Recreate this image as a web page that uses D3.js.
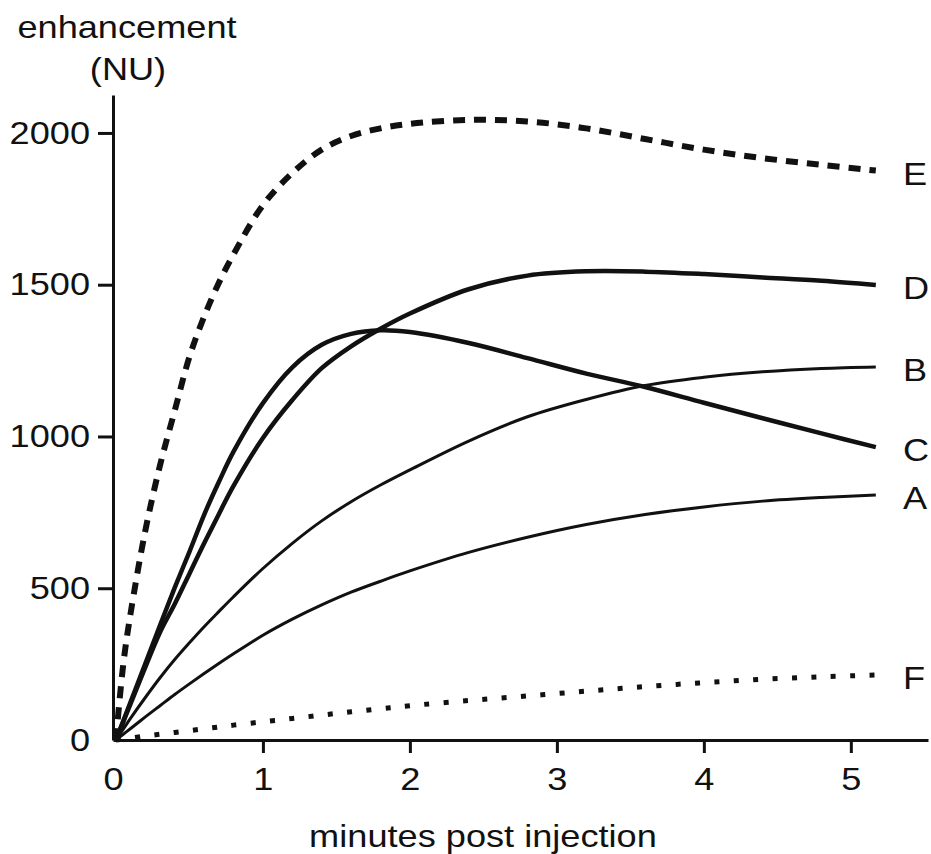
<!DOCTYPE html>
<html>
<head>
<meta charset="utf-8">
<script src="https://cdn.jsdelivr.net/npm/d3@7"></script>
<style>
  body { margin: 0; background: #fff; }
  svg { display: block; }
  text { font-family: "Liberation Sans", Arial, sans-serif; fill: #111; }
</style>
</head>
<body>
<svg id="chart" width="931" height="854"></svg>
<script>
// minutes post injection
const times   = [0, 0.05, 0.1, 0.2, 0.3, 0.4, 0.5, 0.6, 0.7, 0.8, 1.0, 1.2, 1.4, 1.6, 1.8, 2.0, 2.4, 2.8, 3.2, 3.6, 4.0, 4.4, 4.8, 5.17];

// enhancement (NU)
const seriesA = [0, 19, 38, 76, 113, 150, 185, 219, 252, 284, 345, 398, 445, 487, 523, 557, 618, 668, 710, 743, 768, 787, 799, 807];
const seriesB = [0, 36, 72, 140, 205, 265, 320, 373, 423, 472, 565, 648, 722, 785, 840, 890, 985, 1065, 1122, 1168, 1195, 1213, 1224, 1229];
const seriesC = [0, 63, 126, 252, 378, 502, 620, 742, 850, 950, 1110, 1228, 1302, 1338, 1350, 1344, 1308, 1258, 1207, 1163, 1111, 1060, 1010, 965];
const seriesD = [0, 60, 120, 240, 355, 448, 548, 648, 744, 837, 995, 1120, 1225, 1297, 1355, 1405, 1485, 1530, 1544, 1543, 1535, 1524, 1513, 1499];
const seriesE = [0, 250, 418, 690, 905, 1085, 1262, 1395, 1506, 1600, 1762, 1868, 1945, 1990, 2015, 2030, 2043, 2038, 2015, 1980, 1945, 1917, 1895, 1876];
const seriesF = [0, 3, 6, 13, 19, 25, 31, 37, 43, 49, 60, 71, 82, 93, 103, 113, 130, 145, 161, 176, 189, 200, 208, 214];

const seriesNames = ['A', 'B', 'C', 'D', 'E', 'F'];
const seriesValues = [seriesA, seriesB, seriesC, seriesD, seriesE, seriesF];

const xTicks = [0, 1, 2, 3, 4, 5];
const yTicks = [0, 500, 1000, 1500, 2000];

const svg = d3.select('#chart');

const x = d3.scaleLinear().domain([-0.02, 5.525]).range([113, 928]);
const y = d3.scaleLinear().domain([0, 2125]).range([740, 95]);

// line styles per curve
const styles = {
  A: { width: 3, dash: null },
  B: { width: 3, dash: null },
  C: { width: 4.5, dash: null },
  D: { width: 4.5, dash: null },
  E: { width: 6, dash: '12 9' },
  F: { width: 5, dash: '5 14.4' }
};

// axes
const xAxis = svg.append('g')
  .attr('transform', 'translate(0, 740)')
  .call(d3.axisBottom(x).tickValues(xTicks).tickFormat(d3.format('d')).tickSize(13).tickSizeOuter(0).tickPadding(14));

const yAxis = svg.append('g')
  .attr('transform', 'translate(113, 0)')
  .call(d3.axisLeft(y).tickValues(yTicks).tickFormat(d3.format('d')).tickSize(15).tickSizeOuter(0).tickPadding(8));

[xAxis, yAxis].forEach(g => {
  g.select('.domain').attr('stroke', '#111').attr('stroke-width', 3);
  g.selectAll('.tick line').attr('stroke', '#111').attr('stroke-width', 3);
  g.selectAll('.tick text').attr('font-size', 32).attr('fill', '#111')
    .attr('font-family', '"Liberation Sans", Arial, sans-serif');
});
// no tick marks at the origin
xAxis.selectAll('.tick').filter(d => d === 0).select('line').remove();
yAxis.selectAll('.tick').filter(d => d === 0).select('line').remove();
xAxis.selectAll('.tick').filter(d => d === 0).select('text').attr('x', -3);

// curves
const line = d3.line()
  .x((d, i) => x(times[i]))
  .y(d => y(d))
  .curve(d3.curveCatmullRom.alpha(0.5));

seriesNames.forEach((name, k) => {
  const st = styles[name];
  svg.append('path')
    .datum(seriesValues[k])
    .attr('fill', 'none')
    .attr('stroke', '#111')
    .attr('stroke-width', st.width)
    .attr('stroke-dasharray', st.dash)
    .attr('stroke-linejoin', 'round')
    .attr('d', line);

  const last = seriesValues[k][seriesValues[k].length - 1];
  svg.append('text')
    .attr('class', 'serieslabel')
    .attr('x', 903)
    .attr('y', y(last) + 3)
    .attr('dominant-baseline', 'central')
    .attr('font-size', 32)
    .text(name);
});

// axis titles
svg.append('text')
  .attr('x', 127)
  .attr('y', 38)
  .attr('text-anchor', 'middle')
  .attr('font-size', 32)
  .text('enhancement');

svg.append('text')
  .attr('x', 128)
  .attr('y', 80)
  .attr('text-anchor', 'middle')
  .attr('font-size', 32)
  .text('(NU)');

svg.append('text')
  .attr('x', 483)
  .attr('y', 847)
  .attr('text-anchor', 'middle')
  .attr('font-size', 32)
  .text('minutes post injection');

// the original lettering is a little wider than Arial
svg.selectAll('text').each(function () {
  const len = this.getComputedTextLength();
  d3.select(this)
    .attr('textLength', len * 1.13)
    .attr('lengthAdjust', 'spacingAndGlyphs');
});
</script>
</body>
</html>
